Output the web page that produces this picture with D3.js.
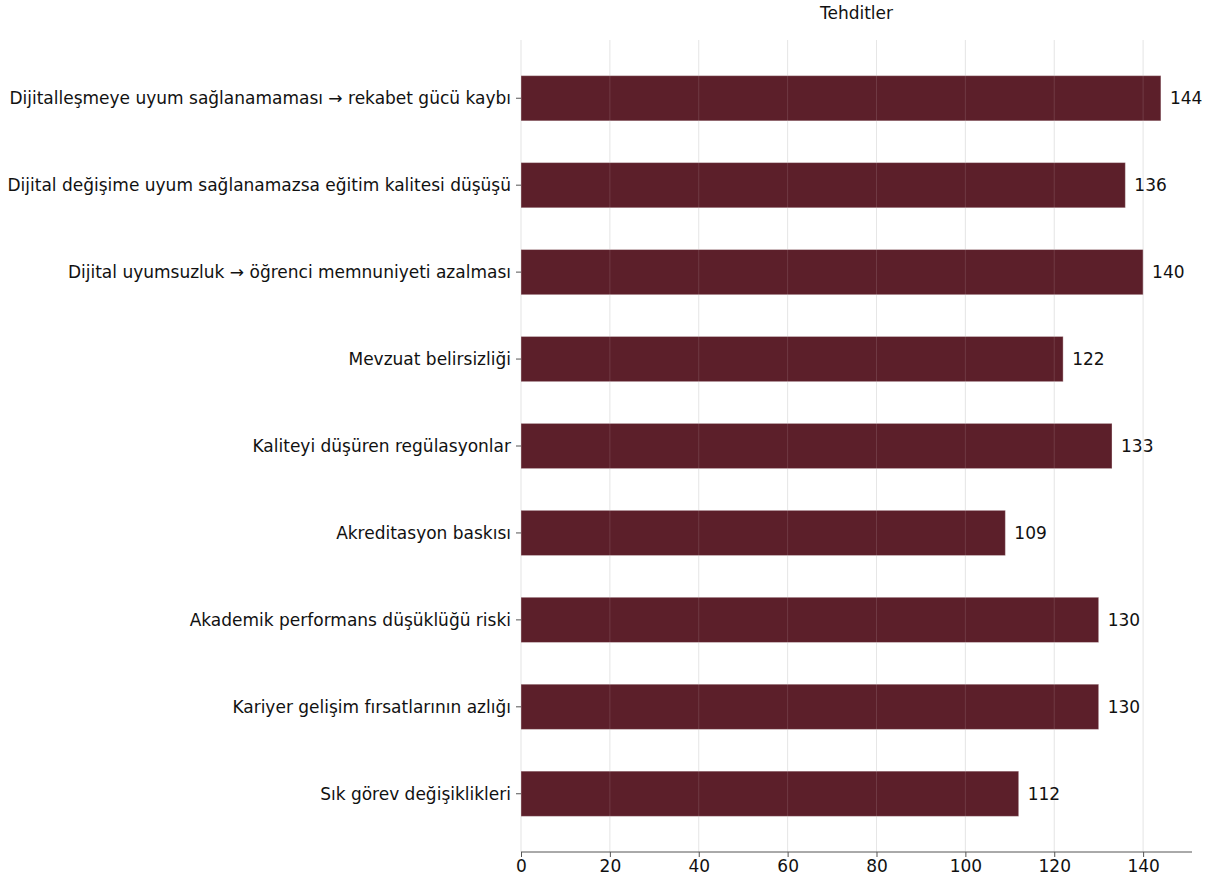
<!DOCTYPE html>
<html><head><meta charset="utf-8">
<script src="https://cdn.jsdelivr.net/npm/d3@7"></script>
<style>body{margin:0;background:#fff;} svg{display:block;font-family:"DejaVu Sans",sans-serif;}</style>
</head><body>
<svg id="chart" width="1209" height="881"></svg>
<script>
const title = "Tehditler";
const categories = [
  "Dijitalleşmeye uyum sağlanamaması → rekabet gücü kaybı",
  "Dijital değişime uyum sağlanamazsa eğitim kalitesi düşüşü",
  "Dijital uyumsuzluk → öğrenci memnuniyeti azalması",
  "Mevzuat belirsizliği",
  "Kaliteyi düşüren regülasyonlar",
  "Akreditasyon baskısı",
  "Akademik performans düşüklüğü riski",
  "Kariyer gelişim fırsatlarının azlığı",
  "Sık görev değişiklikleri"
];
const values = [144, 136, 140, 122, 133, 109, 130, 130, 112];
const xTicks = [0, 20, 40, 60, 80, 100, 120, 140];

(function () {
const svg = d3.select("#chart");
const FS = 17;
const mLeft = 521, mRight = 1192, mTop = 40, mBottom = 852;
const x = d3.scaleLinear().domain([0, 151]).range([mLeft, mRight]);
const y = d3.scaleLinear().domain([-0.67, categories.length - 1 + 0.67]).range([mTop, mBottom]);
const barH = y(0.26) - y(-0.26);

// grid
svg.append("g").selectAll("line").data(xTicks).join("line")
  .attr("x1", d => x(d)).attr("x2", d => x(d))
  .attr("y1", mTop).attr("y2", mBottom)
  .attr("stroke", "#e3e3e3").attr("stroke-width", 1);

// bars
svg.append("g").selectAll("rect").data(values).join("rect")
  .attr("x", x(0)).attr("y", (d, i) => y(i) - barH / 2)
  .attr("width", d => x(d) - x(0)).attr("height", barH)
  .attr("fill", "#5c1f2a").attr("stroke", "#ffffff").attr("stroke-opacity", 0.35).attr("stroke-width", 1);

// grid over bars faintly
svg.append("g").selectAll("line").data(xTicks.slice(1)).join("line")
  .attr("x1", d => x(d)).attr("x2", d => x(d))
  .attr("y1", mTop).attr("y2", mBottom)
  .attr("stroke", "#ffffff").attr("stroke-opacity", 0.12).attr("stroke-width", 1);

// value labels
svg.append("g").selectAll("text").data(values).join("text")
  .attr("x", d => x(d) + 9).attr("y", (d, i) => y(i))
  .attr("dy", "0.35em").attr("font-size", FS).attr("fill", "#111")
  .text(d => d);

// x axis
const xAxis = d3.axisBottom(x).tickValues(xTicks).tickSize(5).tickPadding(3);
const gx = svg.append("g").attr("transform", `translate(0,${mBottom})`).call(xAxis);
gx.select(".domain").attr("stroke", "#555").attr("d", `M${mLeft},0H${mRight}`);
gx.selectAll(".tick line").attr("stroke", "#555");
gx.selectAll("text").attr("font-size", FS).attr("fill", "#111").attr("font-family", "DejaVu Sans");

// y axis labels
const gy = svg.append("g");
gy.selectAll("line").data(categories).join("line")
  .attr("x1", mLeft - 5).attr("x2", mLeft).attr("y1", (d, i) => y(i)).attr("y2", (d, i) => y(i))
  .attr("stroke", "#555");
gy.selectAll("text").data(categories).join("text")
  .attr("x", mLeft - 10).attr("y", (d, i) => y(i)).attr("dy", "0.35em")
  .attr("text-anchor", "end").attr("font-size", FS).attr("fill", "#111")
  .text(d => d);

// title
svg.append("text").attr("x", (mLeft + mRight) / 2).attr("y", 19)
  .attr("text-anchor", "middle").attr("font-size", FS).attr("fill", "#111").text(title);
})();
</script>
</body></html>
